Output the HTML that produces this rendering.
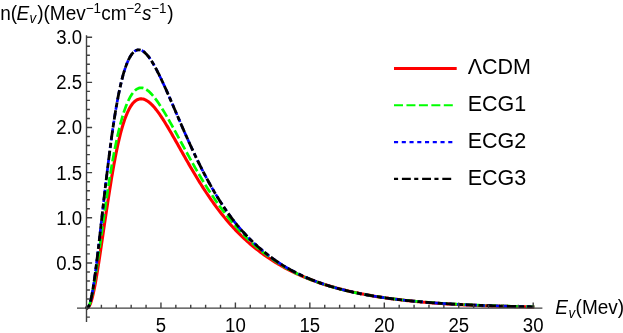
<!DOCTYPE html>
<html><head><meta charset="utf-8"><title>plot</title>
<style>
html,body{margin:0;padding:0;background:#fff;}
body{width:623px;height:333px;overflow:hidden;}
svg{display:block;will-change:transform;}
text{font-family:"Liberation Sans",sans-serif;fill:#000;}
.t{font-size:19.0px;}
.lg{font-size:21.5px;}
.k{font-size:18.6px;}
.i{font-style:italic;}
.s{font-size:13.4px;}
</style></head><body>
<svg width="623" height="333" viewBox="0 0 623 333">
<rect width="623" height="333" fill="#fff"/>
<g fill="none" stroke-linejoin="round">
<path d="M86.50,308.10 L87.24,308.02 L87.99,307.64 L88.73,306.88 L89.48,305.69 L90.22,304.09 L90.97,302.07 L91.71,299.66 L92.46,296.89 L93.20,293.76 L93.94,290.33 L94.69,286.62 L95.43,282.65 L96.18,278.46 L96.92,274.07 L97.67,269.52 L98.41,264.82 L99.16,260.01 L99.90,255.10 L100.65,250.12 L101.39,245.08 L102.13,240.02 L102.88,234.93 L103.62,229.85 L104.37,224.78 L105.11,219.74 L105.86,214.74 L106.60,209.79 L107.35,204.91 L108.09,200.09 L108.84,195.36 L109.55,190.71 L110.26,186.16 L110.98,181.70 L111.69,177.36 L112.41,173.12 L113.12,168.99 L113.84,164.99 L114.55,161.10 L115.27,157.33 L115.98,153.69 L116.69,150.17 L117.41,146.78 L118.12,143.52 L118.84,140.38 L119.55,137.37 L120.27,134.48 L120.98,131.73 L121.70,129.09 L122.41,126.58 L123.12,124.20 L123.86,121.94 L124.59,119.79 L125.32,117.77 L126.05,115.86 L126.78,114.07 L127.51,112.39 L128.24,110.82 L128.97,109.35 L129.70,108.00 L130.43,106.75 L131.16,105.60 L131.89,104.55 L132.62,103.60 L133.35,102.74 L134.10,101.97 L134.86,101.30 L135.62,100.71 L136.37,100.20 L137.13,99.78 L137.88,99.44 L138.64,99.17 L139.40,98.98 L140.15,98.87 L140.91,98.82 L141.66,98.85 L142.42,98.93 L143.18,99.09 L143.93,99.30 L144.69,99.57 L145.44,99.90 L146.20,100.29 L146.96,100.73 L147.71,101.22 L148.47,101.75 L149.22,102.34 L149.98,102.97 L150.74,103.64 L151.49,104.36 L152.25,105.11 L153.00,105.91 L153.75,106.74 L154.50,107.60 L155.24,108.50 L155.99,109.42 L156.74,110.38 L157.48,111.37 L158.23,112.38 L158.98,113.42 L159.72,114.48 L160.47,115.57 L161.22,116.68 L161.96,117.81 L162.71,118.95 L163.46,120.12 L164.20,121.30 L164.95,122.50 L165.70,123.71 L166.44,124.93 L167.19,126.17 L167.94,127.42 L168.68,128.68 L169.43,129.95 L170.17,131.23 L170.92,132.52 L171.67,133.82 L172.41,135.12 L173.16,136.42 L173.91,137.74 L174.65,139.05 L175.40,140.37 L176.15,141.70 L176.89,143.02 L177.64,144.35 L178.39,145.68 L179.13,147.01 L179.88,148.33 L180.63,149.66 L181.37,150.99 L182.12,152.32 L182.87,153.64 L183.61,154.96 L184.36,156.28 L185.10,157.60 L185.85,158.91 L186.60,160.22 L187.34,161.53 L188.09,162.83 L188.84,164.13 L189.58,165.42 L190.33,166.70 L191.07,167.99 L191.82,169.26 L192.56,170.53 L193.31,171.79 L194.05,173.05 L194.80,174.30 L195.54,175.54 L196.29,176.77 L197.03,178.00 L197.78,179.22 L198.52,180.44 L199.26,181.64 L200.01,182.84 L200.75,184.03 L201.50,185.21 L202.24,186.38 L202.99,187.55 L203.73,188.71 L204.48,189.86 L205.22,191.00 L206.71,193.25 L208.20,195.48 L209.70,197.67 L211.19,199.83 L212.68,201.95 L214.18,204.03 L215.67,206.08 L217.17,208.10 L218.66,210.08 L220.15,212.02 L221.65,213.93 L223.14,215.80 L224.63,217.64 L226.13,219.44 L227.62,221.21 L229.12,222.95 L230.61,224.65 L232.10,226.32 L233.60,227.96 L235.09,229.57 L236.61,231.14 L238.12,232.68 L239.63,234.20 L241.15,235.68 L242.66,237.13 L244.17,238.55 L245.69,239.95 L247.20,241.32 L248.72,242.65 L250.23,243.97 L251.74,245.25 L253.26,246.51 L254.77,247.74 L256.29,248.95 L257.80,250.14 L259.31,251.30 L260.83,252.43 L262.34,253.55 L263.85,254.64 L265.37,255.71 L266.86,256.75 L268.35,257.78 L269.85,258.78 L271.34,259.77 L272.83,260.73 L274.33,261.68 L275.82,262.60 L277.32,263.51 L278.81,264.40 L280.30,265.27 L281.80,266.12 L283.29,266.96 L284.78,267.77 L286.28,268.58 L287.77,269.36 L289.27,270.13 L290.76,270.89 L292.25,271.63 L293.75,272.35 L295.24,273.06 L296.73,273.76 L298.23,274.44 L299.72,275.11 L301.22,275.77 L302.71,276.41 L304.20,277.04 L305.70,277.66 L307.19,278.27 L308.68,278.86 L310.18,279.44 L311.67,280.01 L313.17,280.57 L314.66,281.12 L316.15,281.66 L317.65,282.19 L319.14,282.70 L320.63,283.21 L322.13,283.71 L323.62,284.19 L325.12,284.67 L326.61,285.14 L328.10,285.60 L329.60,286.05 L331.09,286.49 L332.58,286.92 L334.08,287.35 L335.57,287.76 L337.07,288.17 L338.56,288.57 L340.05,288.97 L341.55,289.35 L343.04,289.73 L344.53,290.10 L346.03,290.46 L347.52,290.82 L349.02,291.17 L350.51,291.51 L352.00,291.85 L353.50,292.18 L354.99,292.50 L356.48,292.81 L357.98,293.13 L359.47,293.43 L360.97,293.73 L362.46,294.02 L363.95,294.31 L365.45,294.59 L366.94,294.87 L368.44,295.14 L369.93,295.40 L371.42,295.66 L372.92,295.92 L374.41,296.17 L375.90,296.41 L377.40,296.66 L378.89,296.89 L380.39,297.12 L381.88,297.35 L383.37,297.57 L384.87,297.79 L386.36,298.00 L387.85,298.21 L389.35,298.42 L390.84,298.62 L392.34,298.82 L393.83,299.01 L395.32,299.20 L396.82,299.39 L398.31,299.57 L399.80,299.75 L401.30,299.92 L402.79,300.10 L404.29,300.26 L405.78,300.43 L407.27,300.59 L408.77,300.75 L410.26,300.90 L411.75,301.06 L413.25,301.21 L414.74,301.35 L416.24,301.50 L417.73,301.64 L419.22,301.77 L420.72,301.91 L422.21,302.04 L423.70,302.17 L425.20,302.30 L426.69,302.42 L428.19,302.54 L429.68,302.66 L431.17,302.78 L432.67,302.89 L434.16,303.01 L435.65,303.12 L437.15,303.22 L438.64,303.33 L440.14,303.43 L441.63,303.53 L443.12,303.63 L444.62,303.73 L446.11,303.83 L447.60,303.92 L449.10,304.01 L450.59,304.10 L452.09,304.19 L453.58,304.27 L455.07,304.36 L456.57,304.44 L458.06,304.52 L459.55,304.60 L461.05,304.68 L462.54,304.75 L464.04,304.83 L465.53,304.90 L467.02,304.97 L468.52,305.04 L470.01,305.11 L471.50,305.17 L473.00,305.24 L474.49,305.30 L475.99,305.36 L477.48,305.43 L478.97,305.48 L480.47,305.54 L481.96,305.60 L483.45,305.66 L484.95,305.71 L486.44,305.77 L487.94,305.82 L489.43,305.87 L490.92,305.92 L492.42,305.97 L493.91,306.02 L495.40,306.06 L496.90,306.11 L498.39,306.16 L499.89,306.20 L501.38,306.24 L502.87,306.28 L504.37,306.33 L505.86,306.37 L507.35,306.41 L508.85,306.44 L510.34,306.48 L511.84,306.52 L513.33,306.56 L514.82,306.59 L516.32,306.63 L517.81,306.66 L519.30,306.69 L520.80,306.73 L522.29,306.76 L523.79,306.79 L525.28,306.82 L526.77,306.85 L528.27,306.88 L529.76,306.91 L531.25,306.93 L532.75,306.96 L534.24,306.99" stroke="#ff0000" stroke-width="3.1"/>
<path d="M86.50,308.10 L87.24,307.96 L87.99,307.37 L88.73,306.26 L89.48,304.61 L90.22,302.46 L90.97,299.84 L91.71,296.78 L92.46,293.33 L93.20,289.53 L93.94,285.42 L94.69,281.05 L95.43,276.44 L96.18,271.63 L96.92,266.66 L97.67,261.56 L98.41,256.35 L99.16,251.06 L99.90,245.72 L100.65,240.34 L101.39,234.94 L102.13,229.55 L102.88,224.18 L103.62,218.84 L104.37,213.54 L105.11,208.31 L105.86,203.14 L106.60,198.06 L107.35,193.06 L108.09,188.15 L108.84,183.35 L109.58,178.66 L110.32,174.07 L111.07,169.61 L111.81,165.26 L112.56,161.03 L113.30,156.93 L114.05,152.95 L114.79,149.11 L115.54,145.39 L116.28,141.80 L117.01,138.34 L117.75,135.01 L118.48,131.80 L119.22,128.73 L119.95,125.78 L120.69,122.96 L121.42,120.26 L122.16,117.68 L122.89,115.23 L123.62,112.89 L124.36,110.67 L125.09,108.57 L125.83,106.58 L126.56,104.70 L127.30,102.94 L128.03,101.28 L128.77,99.73 L129.50,98.28 L130.24,96.93 L130.97,95.69 L131.70,94.54 L132.43,93.49 L133.16,92.53 L133.89,91.67 L134.63,90.90 L135.36,90.22 L136.09,89.63 L136.82,89.12 L137.55,88.70 L138.28,88.36 L139.01,88.10 L139.74,87.92 L140.48,87.82 L141.21,87.79 L141.94,87.84 L142.67,87.95 L143.40,88.14 L144.13,88.39 L144.86,88.70 L145.59,89.08 L146.32,89.51 L147.06,90.00 L147.79,90.54 L148.52,91.13 L149.25,91.78 L149.98,92.47 L150.71,93.20 L151.44,93.97 L152.17,94.79 L152.91,95.64 L153.64,96.52 L154.38,97.44 L155.12,98.39 L155.86,99.37 L156.59,100.38 L157.33,101.41 L158.07,102.47 L158.81,103.55 L159.55,104.65 L160.28,105.78 L161.02,106.92 L161.76,108.08 L162.50,109.26 L163.23,110.45 L163.97,111.66 L164.71,112.88 L165.45,114.12 L166.19,115.37 L166.92,116.63 L167.66,117.90 L168.40,119.19 L169.14,120.48 L169.88,121.79 L170.61,123.10 L171.35,124.42 L172.09,125.74 L172.83,127.07 L173.56,128.41 L174.30,129.76 L175.04,131.11 L175.78,132.46 L176.52,133.81 L177.27,135.17 L178.01,136.54 L178.75,137.90 L179.49,139.27 L180.23,140.63 L180.98,142.00 L181.72,143.37 L182.46,144.73 L183.20,146.10 L183.94,147.46 L184.69,148.83 L185.43,150.19 L186.17,151.54 L186.91,152.90 L187.65,154.25 L188.40,155.60 L189.14,156.95 L189.88,158.29 L190.62,159.62 L191.36,160.96 L192.11,162.28 L192.85,163.61 L193.59,164.92 L194.33,166.23 L195.07,167.54 L195.82,168.84 L196.56,170.13 L197.30,171.42 L198.04,172.70 L198.78,173.97 L199.53,175.23 L200.27,176.49 L201.01,177.74 L201.75,178.99 L202.49,180.22 L203.24,181.45 L203.98,182.67 L204.72,183.89 L206.23,186.29 L207.74,188.67 L209.26,191.01 L210.77,193.32 L212.28,195.59 L213.80,197.83 L215.31,200.04 L216.83,202.21 L218.34,204.34 L219.85,206.44 L221.37,208.51 L222.88,210.53 L224.39,212.53 L225.91,214.48 L227.42,216.41 L228.94,218.29 L230.45,220.14 L231.96,221.96 L233.48,223.75 L234.99,225.50 L236.51,227.21 L238.03,228.90 L239.55,230.55 L241.07,232.17 L242.59,233.75 L244.10,235.31 L245.62,236.83 L247.14,238.32 L248.66,239.79 L250.18,241.22 L251.70,242.63 L253.22,244.00 L254.74,245.35 L256.26,246.67 L257.77,247.96 L259.29,249.22 L260.81,250.46 L262.33,251.67 L263.85,252.86 L265.37,254.02 L266.86,255.16 L268.35,256.27 L269.85,257.36 L271.34,258.43 L272.83,259.47 L274.33,260.49 L275.82,261.49 L277.32,262.47 L278.81,263.43 L280.30,264.36 L281.80,265.28 L283.29,266.17 L284.78,267.05 L286.28,267.91 L287.77,268.75 L289.27,269.57 L290.76,270.38 L292.25,271.16 L293.75,271.93 L295.24,272.69 L296.73,273.42 L298.23,274.14 L299.72,274.85 L301.22,275.54 L302.71,276.21 L304.20,276.87 L305.70,277.52 L307.19,278.15 L308.68,278.77 L310.18,279.38 L311.67,279.97 L313.17,280.55 L314.66,281.12 L316.15,281.67 L317.65,282.22 L319.14,282.75 L320.63,283.27 L322.13,283.78 L323.62,284.28 L325.12,284.76 L326.61,285.24 L328.10,285.71 L329.60,286.17 L331.09,286.61 L332.58,287.05 L334.08,287.48 L335.57,287.90 L337.07,288.31 L338.56,288.71 L340.05,289.11 L341.55,289.49 L343.04,289.87 L344.53,290.24 L346.03,290.60 L347.52,290.95 L349.02,291.30 L350.51,291.64 L352.00,291.97 L353.50,292.30 L354.99,292.62 L356.48,292.93 L357.98,293.23 L359.47,293.53 L360.97,293.83 L362.46,294.11 L363.95,294.39 L365.45,294.67 L366.94,294.94 L368.44,295.20 L369.93,295.46 L371.42,295.71 L372.92,295.96 L374.41,296.20 L375.90,296.44 L377.40,296.67 L378.89,296.90 L380.39,297.13 L381.88,297.34 L383.37,297.56 L384.87,297.77 L386.36,297.97 L387.85,298.18 L389.35,298.37 L390.84,298.57 L392.34,298.76 L393.83,298.94 L395.32,299.12 L396.82,299.30 L398.31,299.48 L399.80,299.65 L401.30,299.82 L402.79,299.98 L404.29,300.14 L405.78,300.30 L407.27,300.45 L408.77,300.61 L410.26,300.75 L411.75,300.90 L413.25,301.04 L414.74,301.18 L416.24,301.32 L417.73,301.45 L419.22,301.59 L420.72,301.71 L422.21,301.84 L423.70,301.97 L425.20,302.09 L426.69,302.21 L428.19,302.32 L429.68,302.44 L431.17,302.55 L432.67,302.66 L434.16,302.77 L435.65,302.87 L437.15,302.98 L438.64,303.08 L440.14,303.18 L441.63,303.27 L443.12,303.37 L444.62,303.46 L446.11,303.56 L447.60,303.65 L449.10,303.73 L450.59,303.82 L452.09,303.90 L453.58,303.99 L455.07,304.07 L456.57,304.15 L458.06,304.23 L459.55,304.30 L461.05,304.38 L462.54,304.45 L464.04,304.53 L465.53,304.60 L467.02,304.67 L468.52,304.73 L470.01,304.80 L471.50,304.87 L473.00,304.93 L474.49,304.99 L475.99,305.06 L477.48,305.12 L478.97,305.18 L480.47,305.23 L481.96,305.29 L483.45,305.35 L484.95,305.40 L486.44,305.46 L487.94,305.51 L489.43,305.56 L490.92,305.61 L492.42,305.66 L493.91,305.71 L495.40,305.76 L496.90,305.80 L498.39,305.85 L499.89,305.89 L501.38,305.94 L502.87,305.98 L504.37,306.02 L505.86,306.07 L507.35,306.11 L508.85,306.15 L510.34,306.18 L511.84,306.22 L513.33,306.26 L514.82,306.30 L516.32,306.33 L517.81,306.37 L519.30,306.40 L520.80,306.44 L522.29,306.47 L523.79,306.50 L525.28,306.54 L526.77,306.57 L528.27,306.60 L529.76,306.63 L531.25,306.66 L532.75,306.69 L534.24,306.72" stroke="#00ff00" stroke-width="2.7" stroke-dasharray="9.3 3.2"/>
<path d="M86.50,308.10 L87.24,307.97 L87.99,307.39 L88.73,306.22 L89.48,304.46 L90.22,302.09 L90.97,299.14 L91.71,295.66 L92.46,291.69 L93.20,287.28 L93.94,282.46 L94.69,277.29 L95.43,271.82 L96.18,266.08 L96.92,260.12 L97.67,253.97 L98.41,247.68 L99.16,241.26 L99.90,234.77 L100.65,228.21 L101.39,221.63 L102.13,215.04 L102.88,208.47 L103.62,201.93 L104.37,195.44 L105.11,189.02 L105.86,182.69 L106.60,176.46 L107.35,170.33 L108.09,164.32 L108.84,158.45 L109.56,152.70 L110.28,147.11 L111.01,141.66 L111.73,136.36 L112.46,131.23 L113.18,126.25 L113.91,121.44 L114.63,116.80 L115.36,112.33 L116.08,108.02 L116.80,103.89 L117.53,99.92 L118.25,96.13 L118.98,92.50 L119.70,89.04 L120.43,85.74 L121.15,82.61 L121.88,79.65 L122.60,76.84 L123.32,74.19 L124.06,71.70 L124.80,69.36 L125.54,67.17 L126.28,65.12 L127.02,63.22 L127.76,61.46 L128.50,59.84 L129.24,58.36 L129.98,57.00 L130.72,55.78 L131.46,54.68 L132.20,53.70 L132.94,52.83 L133.68,52.09 L134.42,51.45 L135.16,50.93 L135.90,50.51 L136.64,50.19 L137.38,49.97 L138.12,49.84 L138.85,49.81 L139.58,49.86 L140.31,50.01 L141.04,50.23 L141.77,50.54 L142.50,50.92 L143.23,51.38 L143.96,51.91 L144.70,52.51 L145.43,53.17 L146.16,53.90 L146.89,54.69 L147.62,55.54 L148.35,56.44 L149.08,57.40 L149.81,58.41 L150.54,59.47 L151.28,60.57 L152.01,61.72 L152.74,62.91 L153.47,64.14 L154.20,65.41 L154.93,66.72 L155.66,68.06 L156.39,69.43 L157.13,70.83 L157.86,72.27 L158.59,73.73 L159.32,75.22 L160.05,76.73 L160.79,78.26 L161.54,79.81 L162.28,81.39 L163.03,82.98 L163.77,84.59 L164.52,86.22 L165.26,87.86 L166.01,89.51 L166.75,91.17 L167.50,92.85 L168.24,94.54 L168.98,96.23 L169.73,97.93 L170.47,99.64 L171.22,101.36 L171.96,103.08 L172.71,104.80 L173.45,106.53 L174.20,108.26 L174.94,109.99 L175.68,111.72 L176.43,113.45 L177.17,115.18 L177.92,116.92 L178.66,118.64 L179.41,120.37 L180.15,122.09 L180.90,123.81 L181.64,125.53 L182.38,127.24 L183.13,128.94 L183.87,130.64 L184.62,132.34 L185.36,134.02 L186.11,135.70 L186.85,137.38 L187.60,139.04 L188.34,140.70 L189.09,142.35 L189.83,143.99 L190.57,145.62 L191.32,147.25 L192.06,148.86 L192.81,150.46 L193.55,152.06 L194.30,153.64 L195.04,155.22 L195.79,156.78 L196.53,158.33 L197.28,159.87 L198.02,161.40 L198.76,162.92 L199.51,164.43 L200.25,165.93 L201.00,167.41 L201.74,168.89 L202.49,170.35 L203.23,171.80 L203.98,173.24 L204.72,174.67 L206.21,177.48 L207.71,180.26 L209.21,182.99 L210.71,185.67 L212.21,188.30 L213.71,190.88 L215.21,193.42 L216.71,195.90 L218.20,198.34 L219.70,200.73 L221.20,203.07 L222.70,205.36 L224.20,207.61 L225.70,209.81 L227.20,211.96 L228.70,214.07 L230.19,216.13 L231.69,218.15 L233.19,220.13 L234.69,222.06 L236.23,223.96 L237.76,225.81 L239.29,227.62 L240.83,229.39 L242.36,231.12 L243.90,232.81 L245.43,234.46 L246.96,236.08 L248.50,237.66 L250.03,239.21 L251.57,240.72 L253.10,242.19 L254.63,243.64 L256.17,245.05 L257.70,246.42 L259.24,247.77 L260.77,249.09 L262.30,250.37 L263.84,251.63 L265.37,252.86 L266.86,254.05 L268.35,255.23 L269.85,256.37 L271.34,257.49 L272.83,258.58 L274.33,259.65 L275.82,260.70 L277.32,261.72 L278.81,262.71 L280.30,263.69 L281.80,264.64 L283.29,265.57 L284.78,266.48 L286.28,267.37 L287.77,268.24 L289.27,269.08 L290.76,269.91 L292.25,270.73 L293.75,271.52 L295.24,272.29 L296.73,273.05 L298.23,273.79 L299.72,274.51 L301.22,275.22 L302.71,275.91 L304.20,276.59 L305.70,277.25 L307.19,277.90 L308.68,278.53 L310.18,279.15 L311.67,279.75 L313.17,280.34 L314.66,280.92 L316.15,281.49 L317.65,282.04 L319.14,282.58 L320.63,283.11 L322.13,283.63 L323.62,284.13 L325.12,284.63 L326.61,285.12 L328.10,285.59 L329.60,286.05 L331.09,286.51 L332.58,286.95 L334.08,287.39 L335.57,287.81 L337.07,288.23 L338.56,288.64 L340.05,289.04 L341.55,289.43 L343.04,289.81 L344.53,290.18 L346.03,290.55 L347.52,290.91 L349.02,291.26 L350.51,291.60 L352.00,291.94 L353.50,292.27 L354.99,292.59 L356.48,292.91 L357.98,293.22 L359.47,293.52 L360.97,293.82 L362.46,294.11 L363.95,294.39 L365.45,294.67 L366.94,294.94 L368.44,295.21 L369.93,295.47 L371.42,295.73 L372.92,295.98 L374.41,296.23 L375.90,296.47 L377.40,296.71 L378.89,296.94 L380.39,297.16 L381.88,297.39 L383.37,297.60 L384.87,297.82 L386.36,298.02 L387.85,298.23 L389.35,298.43 L390.84,298.63 L392.34,298.82 L393.83,299.01 L395.32,299.19 L396.82,299.37 L398.31,299.55 L399.80,299.72 L401.30,299.89 L402.79,300.06 L404.29,300.22 L405.78,300.38 L407.27,300.54 L408.77,300.70 L410.26,300.85 L411.75,300.99 L413.25,301.14 L414.74,301.28 L416.24,301.42 L417.73,301.56 L419.22,301.69 L420.72,301.82 L422.21,301.95 L423.70,302.08 L425.20,302.20 L426.69,302.32 L428.19,302.44 L429.68,302.55 L431.17,302.67 L432.67,302.78 L434.16,302.89 L435.65,302.99 L437.15,303.10 L438.64,303.20 L440.14,303.30 L441.63,303.40 L443.12,303.50 L444.62,303.59 L446.11,303.69 L447.60,303.78 L449.10,303.87 L450.59,303.95 L452.09,304.04 L453.58,304.12 L455.07,304.20 L456.57,304.29 L458.06,304.36 L459.55,304.44 L461.05,304.52 L462.54,304.59 L464.04,304.66 L465.53,304.74 L467.02,304.81 L468.52,304.87 L470.01,304.94 L471.50,305.01 L473.00,305.07 L474.49,305.14 L475.99,305.20 L477.48,305.26 L478.97,305.32 L480.47,305.38 L481.96,305.43 L483.45,305.49 L484.95,305.54 L486.44,305.60 L487.94,305.65 L489.43,305.70 L490.92,305.75 L492.42,305.80 L493.91,305.85 L495.40,305.90 L496.90,305.94 L498.39,305.99 L499.89,306.03 L501.38,306.08 L502.87,306.12 L504.37,306.16 L505.86,306.20 L507.35,306.24 L508.85,306.28 L510.34,306.32 L511.84,306.36 L513.33,306.40 L514.82,306.43 L516.32,306.47 L517.81,306.50 L519.30,306.54 L520.80,306.57 L522.29,306.60 L523.79,306.63 L525.28,306.67 L526.77,306.70 L528.27,306.73 L529.76,306.76 L531.25,306.79 L532.75,306.81 L534.24,306.84" stroke="#0000ff" stroke-width="2.7" stroke-dasharray="4.6 3.15"/>
<path d="M86.50,308.10 L87.24,307.97 L87.99,307.39 L88.73,306.22 L89.48,304.46 L90.22,302.09 L90.97,299.14 L91.71,295.66 L92.46,291.69 L93.20,287.28 L93.94,282.46 L94.69,277.29 L95.43,271.82 L96.18,266.08 L96.92,260.12 L97.67,253.97 L98.41,247.68 L99.16,241.26 L99.90,234.77 L100.65,228.21 L101.39,221.63 L102.13,215.04 L102.88,208.47 L103.62,201.93 L104.37,195.44 L105.11,189.02 L105.86,182.69 L106.60,176.46 L107.35,170.33 L108.09,164.32 L108.84,158.45 L109.56,152.70 L110.28,147.11 L111.01,141.66 L111.73,136.36 L112.46,131.23 L113.18,126.25 L113.91,121.44 L114.63,116.80 L115.36,112.33 L116.08,108.02 L116.80,103.89 L117.53,99.92 L118.25,96.13 L118.98,92.50 L119.70,89.04 L120.43,85.74 L121.15,82.61 L121.88,79.65 L122.60,76.84 L123.32,74.19 L124.06,71.70 L124.80,69.36 L125.54,67.17 L126.28,65.12 L127.02,63.22 L127.76,61.46 L128.50,59.84 L129.24,58.36 L129.98,57.00 L130.72,55.78 L131.46,54.68 L132.20,53.70 L132.94,52.83 L133.68,52.09 L134.42,51.45 L135.16,50.93 L135.90,50.51 L136.64,50.19 L137.38,49.97 L138.12,49.84 L138.85,49.81 L139.58,49.86 L140.31,50.01 L141.04,50.23 L141.77,50.54 L142.50,50.92 L143.23,51.38 L143.96,51.91 L144.70,52.51 L145.43,53.17 L146.16,53.90 L146.89,54.69 L147.62,55.54 L148.35,56.44 L149.08,57.40 L149.81,58.41 L150.54,59.47 L151.28,60.57 L152.01,61.72 L152.74,62.91 L153.47,64.14 L154.20,65.41 L154.93,66.72 L155.66,68.06 L156.39,69.43 L157.13,70.83 L157.86,72.27 L158.59,73.73 L159.32,75.22 L160.05,76.73 L160.79,78.26 L161.54,79.81 L162.28,81.39 L163.03,82.98 L163.77,84.59 L164.52,86.22 L165.26,87.86 L166.01,89.51 L166.75,91.17 L167.50,92.85 L168.24,94.54 L168.98,96.23 L169.73,97.93 L170.47,99.64 L171.22,101.36 L171.96,103.08 L172.71,104.80 L173.45,106.53 L174.20,108.26 L174.94,109.99 L175.68,111.72 L176.43,113.45 L177.17,115.18 L177.92,116.92 L178.66,118.64 L179.41,120.37 L180.15,122.09 L180.90,123.81 L181.64,125.53 L182.38,127.24 L183.13,128.94 L183.87,130.64 L184.62,132.34 L185.36,134.02 L186.11,135.70 L186.85,137.38 L187.60,139.04 L188.34,140.70 L189.09,142.35 L189.83,143.99 L190.57,145.62 L191.32,147.25 L192.06,148.86 L192.81,150.46 L193.55,152.06 L194.30,153.64 L195.04,155.22 L195.79,156.78 L196.53,158.33 L197.28,159.87 L198.02,161.40 L198.76,162.92 L199.51,164.43 L200.25,165.93 L201.00,167.41 L201.74,168.89 L202.49,170.35 L203.23,171.80 L203.98,173.24 L204.72,174.67 L206.21,177.48 L207.71,180.26 L209.21,182.99 L210.71,185.67 L212.21,188.30 L213.71,190.88 L215.21,193.42 L216.71,195.90 L218.20,198.34 L219.70,200.73 L221.20,203.07 L222.70,205.36 L224.20,207.61 L225.70,209.81 L227.20,211.96 L228.70,214.07 L230.19,216.13 L231.69,218.15 L233.19,220.13 L234.69,222.06 L236.23,223.96 L237.76,225.81 L239.29,227.62 L240.83,229.39 L242.36,231.12 L243.90,232.81 L245.43,234.46 L246.96,236.08 L248.50,237.66 L250.03,239.21 L251.57,240.72 L253.10,242.19 L254.63,243.64 L256.17,245.05 L257.70,246.42 L259.24,247.77 L260.77,249.09 L262.30,250.37 L263.84,251.63 L265.37,252.86 L266.86,254.05 L268.35,255.23 L269.85,256.37 L271.34,257.49 L272.83,258.58 L274.33,259.65 L275.82,260.70 L277.32,261.72 L278.81,262.71 L280.30,263.69 L281.80,264.64 L283.29,265.57 L284.78,266.48 L286.28,267.37 L287.77,268.24 L289.27,269.08 L290.76,269.91 L292.25,270.73 L293.75,271.52 L295.24,272.29 L296.73,273.05 L298.23,273.79 L299.72,274.51 L301.22,275.22 L302.71,275.91 L304.20,276.59 L305.70,277.25 L307.19,277.90 L308.68,278.53 L310.18,279.15 L311.67,279.75 L313.17,280.34 L314.66,280.92 L316.15,281.49 L317.65,282.04 L319.14,282.58 L320.63,283.11 L322.13,283.63 L323.62,284.13 L325.12,284.63 L326.61,285.12 L328.10,285.59 L329.60,286.05 L331.09,286.51 L332.58,286.95 L334.08,287.39 L335.57,287.81 L337.07,288.23 L338.56,288.64 L340.05,289.04 L341.55,289.43 L343.04,289.81 L344.53,290.18 L346.03,290.55 L347.52,290.91 L349.02,291.26 L350.51,291.60 L352.00,291.94 L353.50,292.27 L354.99,292.59 L356.48,292.91 L357.98,293.22 L359.47,293.52 L360.97,293.82 L362.46,294.11 L363.95,294.39 L365.45,294.67 L366.94,294.94 L368.44,295.21 L369.93,295.47 L371.42,295.73 L372.92,295.98 L374.41,296.23 L375.90,296.47 L377.40,296.71 L378.89,296.94 L380.39,297.16 L381.88,297.39 L383.37,297.60 L384.87,297.82 L386.36,298.02 L387.85,298.23 L389.35,298.43 L390.84,298.63 L392.34,298.82 L393.83,299.01 L395.32,299.19 L396.82,299.37 L398.31,299.55 L399.80,299.72 L401.30,299.89 L402.79,300.06 L404.29,300.22 L405.78,300.38 L407.27,300.54 L408.77,300.70 L410.26,300.85 L411.75,300.99 L413.25,301.14 L414.74,301.28 L416.24,301.42 L417.73,301.56 L419.22,301.69 L420.72,301.82 L422.21,301.95 L423.70,302.08 L425.20,302.20 L426.69,302.32 L428.19,302.44 L429.68,302.55 L431.17,302.67 L432.67,302.78 L434.16,302.89 L435.65,302.99 L437.15,303.10 L438.64,303.20 L440.14,303.30 L441.63,303.40 L443.12,303.50 L444.62,303.59 L446.11,303.69 L447.60,303.78 L449.10,303.87 L450.59,303.95 L452.09,304.04 L453.58,304.12 L455.07,304.20 L456.57,304.29 L458.06,304.36 L459.55,304.44 L461.05,304.52 L462.54,304.59 L464.04,304.66 L465.53,304.74 L467.02,304.81 L468.52,304.87 L470.01,304.94 L471.50,305.01 L473.00,305.07 L474.49,305.14 L475.99,305.20 L477.48,305.26 L478.97,305.32 L480.47,305.38 L481.96,305.43 L483.45,305.49 L484.95,305.54 L486.44,305.60 L487.94,305.65 L489.43,305.70 L490.92,305.75 L492.42,305.80 L493.91,305.85 L495.40,305.90 L496.90,305.94 L498.39,305.99 L499.89,306.03 L501.38,306.08 L502.87,306.12 L504.37,306.16 L505.86,306.20 L507.35,306.24 L508.85,306.28 L510.34,306.32 L511.84,306.36 L513.33,306.40 L514.82,306.43 L516.32,306.47 L517.81,306.50 L519.30,306.54 L520.80,306.57 L522.29,306.60 L523.79,306.63 L525.28,306.67 L526.77,306.70 L528.27,306.73 L529.76,306.76 L531.25,306.79 L532.75,306.81 L534.24,306.84" stroke="#000000" stroke-width="2.8" stroke-dasharray="5 3 9.5 2.9"/>
</g>
<circle cx="86.7" cy="307.7" r="1.7" fill="#000"/>
<g stroke="#404040" stroke-width="1.4" fill="none">
<path d="M77,308.1 H542.4 M86.5,35.2 V322"/>
<path d="M101.39,308.1 v-3.4 M116.28,308.1 v-3.4 M131.17,308.1 v-3.4 M146.06,308.1 v-3.4 M160.95,308.1 v-5.6 M175.84,308.1 v-3.4 M190.73,308.1 v-3.4 M205.62,308.1 v-3.4 M220.51,308.1 v-3.4 M235.40,308.1 v-5.6 M250.29,308.1 v-3.4 M265.18,308.1 v-3.4 M280.07,308.1 v-3.4 M294.96,308.1 v-3.4 M309.85,308.1 v-5.6 M324.74,308.1 v-3.4 M339.63,308.1 v-3.4 M354.52,308.1 v-3.4 M369.41,308.1 v-3.4 M384.30,308.1 v-5.6 M399.19,308.1 v-3.4 M414.08,308.1 v-3.4 M428.97,308.1 v-3.4 M443.86,308.1 v-3.4 M458.75,308.1 v-5.6 M473.64,308.1 v-3.4 M488.53,308.1 v-3.4 M503.42,308.1 v-3.4 M518.31,308.1 v-3.4 M533.20,308.1 v-5.6 M86.5,317.13 h3.4 M86.5,299.07 h3.4 M86.5,290.04 h3.4 M86.5,281.01 h3.4 M86.5,271.98 h3.4 M86.5,262.95 h5.6 M86.5,253.92 h3.4 M86.5,244.89 h3.4 M86.5,235.86 h3.4 M86.5,226.83 h3.4 M86.5,217.80 h5.6 M86.5,208.77 h3.4 M86.5,199.74 h3.4 M86.5,190.71 h3.4 M86.5,181.68 h3.4 M86.5,172.65 h5.6 M86.5,163.62 h3.4 M86.5,154.59 h3.4 M86.5,145.56 h3.4 M86.5,136.53 h3.4 M86.5,127.50 h5.6 M86.5,118.47 h3.4 M86.5,109.44 h3.4 M86.5,100.41 h3.4 M86.5,91.38 h3.4 M86.5,82.35 h5.6 M86.5,73.32 h3.4 M86.5,64.29 h3.4 M86.5,55.26 h3.4 M86.5,46.23 h3.4 M86.5,37.20 h5.6"/>
</g>
<text class="k" transform="translate(160.95,331.90) scale(1,1.06)" text-anchor="middle">5</text><text class="k" transform="translate(235.40,331.90) scale(1,1.06)" text-anchor="middle">10</text><text class="k" transform="translate(309.85,331.90) scale(1,1.06)" text-anchor="middle">15</text><text class="k" transform="translate(384.30,331.90) scale(1,1.06)" text-anchor="middle">20</text><text class="k" transform="translate(458.75,331.90) scale(1,1.06)" text-anchor="middle">25</text><text class="k" transform="translate(533.20,331.90) scale(1,1.06)" text-anchor="middle">30</text><text class="k" transform="translate(82.00,269.85) scale(1,1.06)" text-anchor="end">0.5</text><text class="k" transform="translate(82.00,224.70) scale(1,1.06)" text-anchor="end">1.0</text><text class="k" transform="translate(82.00,179.55) scale(1,1.06)" text-anchor="end">1.5</text><text class="k" transform="translate(82.00,134.40) scale(1,1.06)" text-anchor="end">2.0</text><text class="k" transform="translate(82.00,89.25) scale(1,1.06)" text-anchor="end">2.5</text><text class="k" transform="translate(82.00,44.10) scale(1,1.06)" text-anchor="end">3.0</text>
<text class="t" transform="translate(0.20,19.80) scale(1,1.05)" text-anchor="start">n(</text><text class="t i" transform="translate(16.60,19.80) scale(1,1.05)" text-anchor="start">E</text><text class="s i" transform="translate(29.50,22.70) scale(1,1.05)" text-anchor="start">v</text><text class="t" transform="translate(37.20,19.80) scale(1,1.05)" text-anchor="start">)(Mev</text><text class="s" transform="translate(85.80,13.40) scale(1,1.05)" text-anchor="start">−1</text><text class="t" transform="translate(101.20,19.80) scale(1,1.05)" text-anchor="start">cm</text><text class="s" transform="translate(126.30,13.40) scale(1,1.05)" text-anchor="start">−2</text><text class="t i" transform="translate(142.00,19.80) scale(1,1.05)" text-anchor="start">s</text><text class="s" transform="translate(151.20,13.40) scale(1,1.05)" text-anchor="start">−1</text><text class="t" transform="translate(167.20,19.80) scale(1,1.05)" text-anchor="start">)</text>
<text class="t i" transform="translate(555.20,314.20) scale(1,1.05)" text-anchor="start">E</text><text class="s i" transform="translate(568.40,317.50) scale(1,1.05)" text-anchor="start">v</text><text class="t" transform="translate(575.60,314.20) scale(1,1.05)" text-anchor="start">(Mev)</text>
<g fill="none">
<path d="M394,68.5 H456.7" stroke="#ff0000" stroke-width="2.9"/>
<path d="M394,105.25 H456" stroke="#00ff00" stroke-width="2.2" stroke-dasharray="9 3.45"/>
<path d="M394,142.05 H456" stroke="#0000ff" stroke-width="2.2" stroke-dasharray="4.1 3.65"/>
<path d="M394,178.9 H452" stroke="#000000" stroke-width="2.2" stroke-dasharray="4.1 3.8 8.9 3.4"/>
</g>
<text class="lg" transform="translate(467.70,74.00) scale(1,1.02)" text-anchor="start">ΛCDM</text><text class="lg" transform="translate(467.70,111.00) scale(1,1.02)" text-anchor="start">ECG1</text><text class="lg" transform="translate(467.70,148.00) scale(1,1.02)" text-anchor="start">ECG2</text><text class="lg" transform="translate(467.70,184.70) scale(1,1.02)" text-anchor="start">ECG3</text>
</svg>
</body></html>
